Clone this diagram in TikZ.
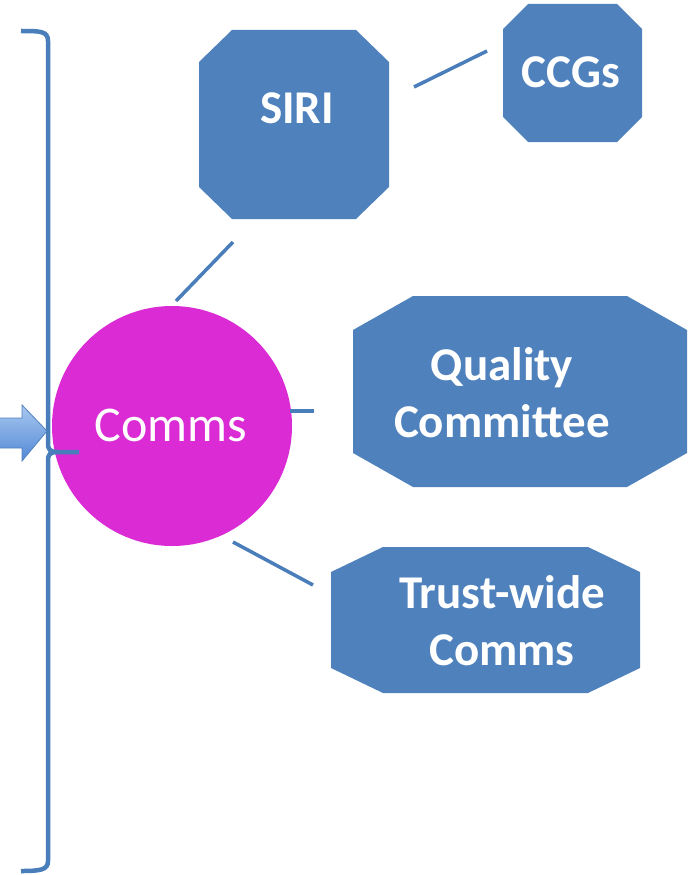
\documentclass[tikz,border=0pt]{standalone}
\usepackage{fontspec}
\setmainfont{Carlito}
\usetikzlibrary{calc}
\definecolor{boxblue}{HTML}{4F81BD}
\definecolor{linkblue}{HTML}{4A7EBB}
\definecolor{hubpink}{HTML}{DB2BD4}
\definecolor{arrowlight}{HTML}{A9C8F0}
\definecolor{arrowdark}{HTML}{5288D6}
\tikzset{
  octbox/.style={fill=boxblue, draw=none},
  boxtext/.style={text=white, font=\fontsize{47}{57}\selectfont\bfseries, align=center, inner sep=0pt},
  link/.style={draw=linkblue, line width=3.5pt, line cap=butt},
  bracket/.style={draw=linkblue, line width=4.5pt},
}
% chamfered rectangle: #1 = x left, #2 = y top, #3 = x right, #4 = y bottom, #5 = cut x, #6 = cut y
\newcommand{\octpath}[6]{(#1+#5,#2) -- (#3-#5,#2) -- (#3,#2+#6) -- (#3,#4-#6) -- (#3-#5,#4) -- (#1+#5,#4) -- (#1,#4-#6) -- (#1,#2+#6) -- cycle}
\begin{document}
\begin{tikzpicture}[x=1pt, y=-1pt]
\useasboundingbox (0,0) rectangle (693,875);

% hub
\node[circle, fill=hubpink, minimum size=240pt, inner sep=0pt] (hub) at (172,426) {};
\node[text=white, font=\fontsize{50}{60}\selectfont, inner sep=0pt] (hublabel) at (171,425) {Comms};

% bracket gathering the inputs
\draw[bracket, line join=round]
  (21,31) .. controls (40,31) and (48,31) .. (48,41) -- (48,443)
  .. controls (48,450) and (50,452) .. (58,452) -- (79,452);
\draw[bracket]
  (58,452) .. controls (50,452) and (48,454) .. (48,461) -- (48,861)
  .. controls (48,870) and (40,871) .. (21,871);

% incoming block arrow
\path[draw=boxblue, line width=0.8pt, top color=arrowlight, bottom color=arrowdark]
  (-2,418) -- (22,418) -- (22,405) -- (47,431) -- (22,461) -- (22,448) -- (-2,448) -- cycle;

% satellite boxes
\fill[octbox] \octpath{199}{30}{389}{219}{33}{32};
\node[boxtext] (siri) at (297,108) {SIRI};

\fill[octbox] \octpath{503}{4}{642}{142}{25}{25};
\node[boxtext] (ccgs) at (571,72) {CCGs};

\fill[octbox] \octpath{353}{296}{687}{487}{60}{34};
\node[boxtext] (quality) at (502,393) {Quality\\Committee};

\fill[octbox] \octpath{331}{547}{640}{693}{52}{25};
\node[boxtext] (trust) at (502,621) {Trust-wide\\Comms};

% connector ends
\coordinate (siriA) at (414,87);
\coordinate (ccgsA) at (487,51);
\coordinate (siriB) at (233,242);
\coordinate (hubA) at (176,301);
\coordinate (hubB) at (290,411);
\coordinate (qualA) at (314,411);
\coordinate (hubC) at (233,542);
\coordinate (trustA) at (313,585);

\draw[link] (siriA) -- (ccgsA);
\draw[link] (siriB) -- (hubA);
\draw[link] (hubB) -- (qualA);
\draw[link] (hubC) -- (trustA);
\end{tikzpicture}
\end{document}
